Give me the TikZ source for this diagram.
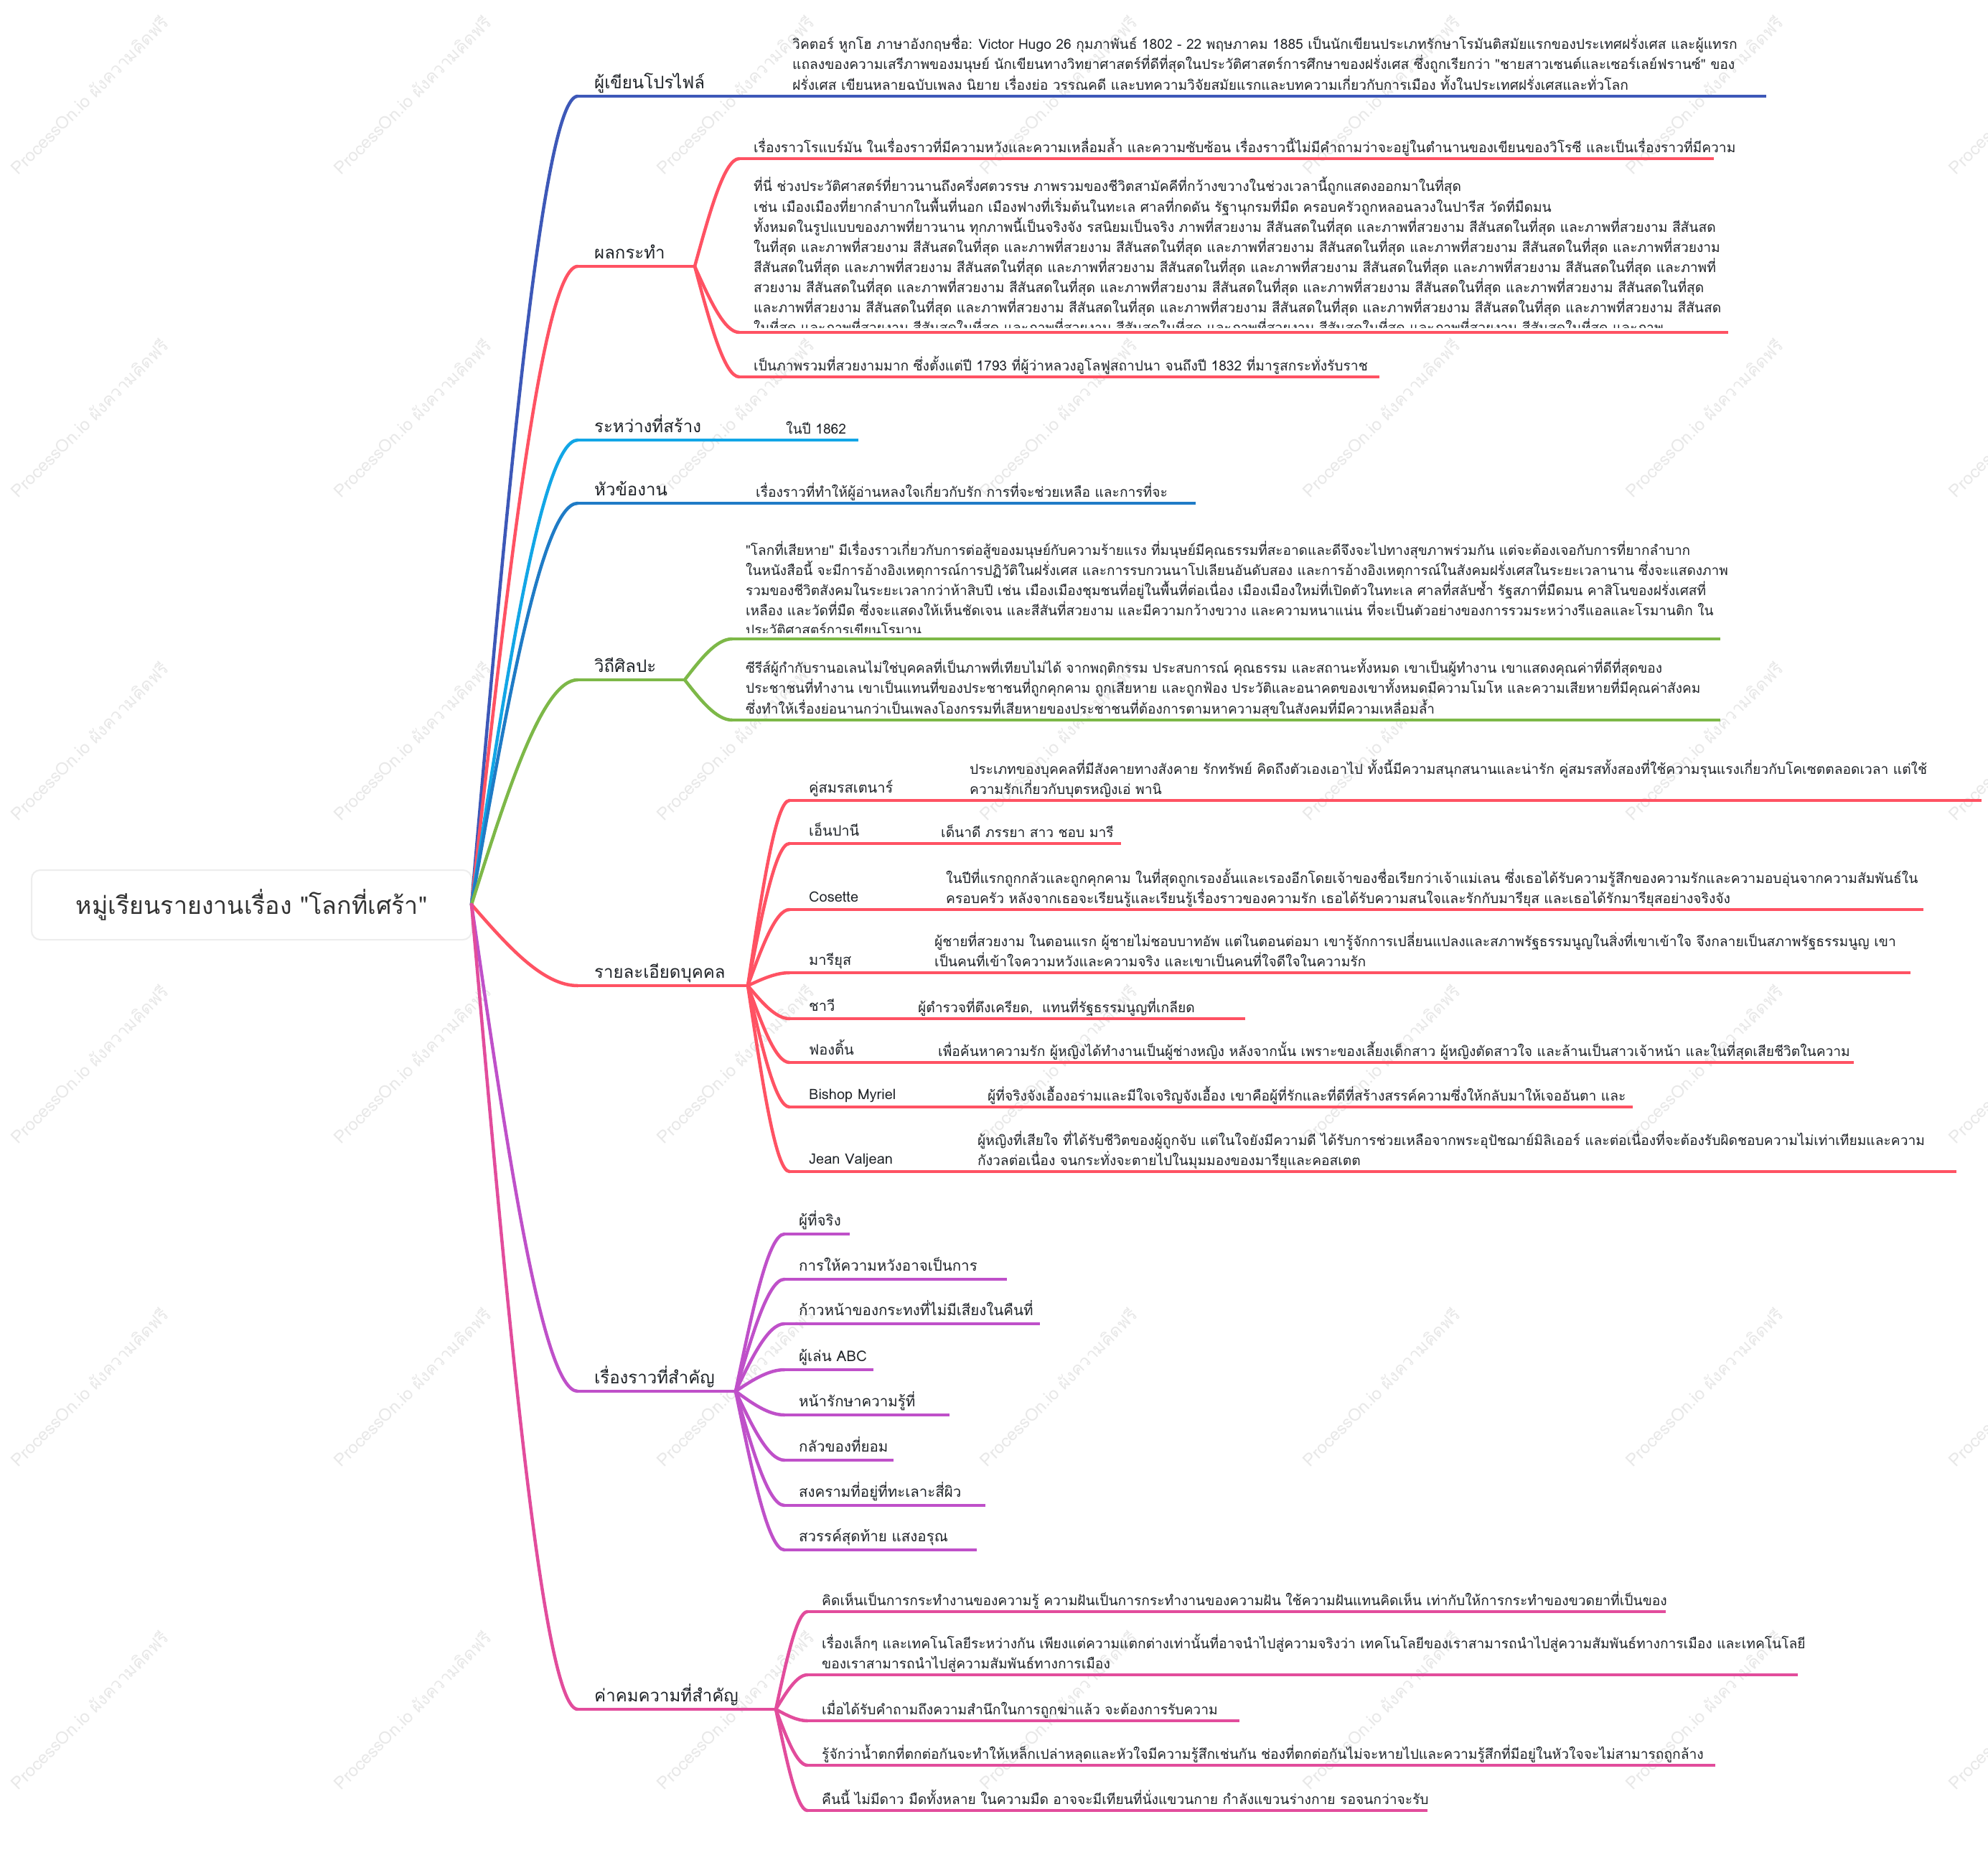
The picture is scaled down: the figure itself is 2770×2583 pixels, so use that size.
\documentclass[tikz,border=0pt]{standalone}
\usepackage{fontspec}
\setmainfont[Script=Thai,Ligatures=TeXOff]{Loma}
\usetikzlibrary{calc}
\definecolor{cBlueA}{HTML}{3D58B8}
\definecolor{cRed}{HTML}{FF5263}
\definecolor{cSky}{HTML}{12A6E6}
\definecolor{cBlueB}{HTML}{1F7BC6}
\definecolor{cGreen}{HTML}{7DB848}
\definecolor{cPurple}{HTML}{BF50C9}
\definecolor{cPink}{HTML}{E24C9C}
\definecolor{cText}{HTML}{1F2328}
\definecolor{cWater}{HTML}{E8E8E8}
\newcommand\lines[1]{\begin{tabular}[b]{@{}l@{}}#1\end{tabular}}
\newcommand\conn[3]{\draw[#1] let \p1=(#2), \p2=(#3) in (\p1) .. controls ({(2*\x1+\x2)/3},{(\y1+\y2)/2}) and ({(\x1+2*\x2)/3},{\y2}) .. (\p2);}
\tikzset{
  lvlone/.style={anchor=base west, inner sep=0, font=\fontsize{24}{30}\selectfont, text=cText},
  para/.style={anchor=base west, inner sep=0, font=\fontsize{19.2}{27.3}\selectfont, text=cText},
  paragreen/.style={anchor=base west, inner sep=0, font=\fontsize{19}{26.7}\selectfont, text=cText},
  cname/.style={anchor=base west, inner sep=0, font=\fontsize{20}{27}\selectfont, text=cText},
  story/.style={anchor=base west, inner sep=0, font=\fontsize{20.5}{27}\selectfont, text=cText},
  uline/.style={line width=4.5pt, line cap=butt},
  link/.style={line width=4.5pt, line cap=round},
  wmark/.style={rotate=45, text=cWater, font=\fontsize{24}{28}\selectfont, inner sep=0},
  rootbox/.style={draw=black!7, line width=2pt, fill=white, rounded corners=12pt, minimum width=613pt, minimum height=97pt, inner sep=0, text=black!80, font=\fontsize{34}{40}\selectfont},
}
\begin{document}
\begin{tikzpicture}[x=1pt,y=-1pt]
\useasboundingbox (0,0) rectangle (2770,2583);
\fill[white] (0,0) rectangle (2770,2583);
% watermarks
\foreach \i in {0,...,6}{\foreach \j in {0,...,5}{
  \node[wmark] (wm-\i-\j) at ({124+450*\i},{132+450*\j}) {ProcessOn.io ผังความคิดฟรี};
}}
% root
\node[rootbox] (root) at (350.5,1260.5) {หมู่เรียนรายงานเรื่อง "โลกที่เศร้า"};
\coordinate (hub) at (657,1260);

% ===== T1 ผู้เขียนโปรไฟล์
\coordinate (t1s) at (805,134); \coordinate (t1e) at (995,134);
\node[lvlone] (t1) at (828,123) {ผู้เขียนโปรไฟล์};
\coordinate (p1s) at (1082,134); \coordinate (p1e) at (2461,134);
\node[para] (p1) at (1104,125) {\lines{วิคตอร์ หูกโฮ ภาษาอังกฤษชื่อ: Victor Hugo 26 กุมภาพันธ์ 1802 - 22 พฤษภาคม 1885 เป็นนักเขียนประเภทรักษาโรมันติสมัยแรกของประเทศฝรั่งเศส และผู้แทรก\\
แถลงของความเสรีภาพของมนุษย์ นักเขียนทางวิทยาศาสตร์ที่ดีที่สุดในประวัติศาสตร์การศึกษาของฝรั่งเศส ซึ่งถูกเรียกว่า "ชายสาวเซนต์และเซอร์เลย์ฟรานซ์" ของ\\
ฝรั่งเศส เขียนหลายฉบับเพลง นิยาย เรื่องย่อ วรรณคดี และบทความวิจัยสมัยแรกและบทความเกี่ยวกับการเมือง ทั้งในประเทศฝรั่งเศสและทั่วโลก}};
\conn{cBlueA,link}{hub}{t1s}
\draw[cBlueA,uline] (t1s) -- (t1e);
\draw[cBlueA,uline] (t1e) -- (p1s);
\draw[cBlueA,uline] (p1s) -- (p1e);

% ===== T2 ผลกระทำ
\coordinate (t2s) at (805,371); \coordinate (t2e) at (968,371);
\node[lvlone] (t2) at (828,360) {ผลกระทำ};
\conn{cRed,link}{hub}{t2s}
\draw[cRed,uline] (t2s) -- (t2e);
\coordinate (p2as) at (1030,221); \coordinate (p2ae) at (2388,221);
\node[para] (p2a) at (1050,212) {เรื่องราวโรแบร์มัน ในเรื่องราวที่มีความหวังและความเหลื่อมล้ำ และความซับซ้อน เรื่องราวนี้ไม่มีคำถามว่าจะอยู่ในตำนานของเขียนของวิโรซี และเป็นเรื่องราวที่มีความ};
\coordinate (p2bs) at (1030,463); \coordinate (p2be) at (2408,463);
\begin{scope}
\clip (1040,240) rectangle (2460,456);
\node[para] (p2b) at (1050,463.3) {\lines{ที่นี่ ช่วงประวัติศาสตร์ที่ยาวนานถึงครึ่งศตวรรษ ภาพรวมของชีวิตสามัคคีที่กว้างขวางในช่วงเวลานี้ถูกแสดงออกมาในที่สุด\\
เช่น เมืองเมืองที่ยากลำบากในพื้นที่นอก เมืองฟางที่เริ่มต้นในทะเล ศาลที่กดดัน รัฐานุกรมที่มืด ครอบครัวถูกหลอนลวงในปารีส วัดที่มืดมน\\
ทั้งหมดในรูปแบบของภาพที่ยาวนาน ทุกภาพนี้เป็นจริงจัง รสนิยมเป็นจริง ภาพที่สวยงาม สีสันสดในที่สุด และภาพที่สวยงาม สีสันสดในที่สุด และภาพที่สวยงาม สีสันสด\\
ในที่สุด และภาพที่สวยงาม สีสันสดในที่สุด และภาพที่สวยงาม สีสันสดในที่สุด และภาพที่สวยงาม สีสันสดในที่สุด และภาพที่สวยงาม สีสันสดในที่สุด และภาพที่สวยงาม\\
สีสันสดในที่สุด และภาพที่สวยงาม สีสันสดในที่สุด และภาพที่สวยงาม สีสันสดในที่สุด และภาพที่สวยงาม สีสันสดในที่สุด และภาพที่สวยงาม สีสันสดในที่สุด และภาพที่\\
สวยงาม สีสันสดในที่สุด และภาพที่สวยงาม สีสันสดในที่สุด และภาพที่สวยงาม สีสันสดในที่สุด และภาพที่สวยงาม สีสันสดในที่สุด และภาพที่สวยงาม สีสันสดในที่สุด\\
และภาพที่สวยงาม สีสันสดในที่สุด และภาพที่สวยงาม สีสันสดในที่สุด และภาพที่สวยงาม สีสันสดในที่สุด และภาพที่สวยงาม สีสันสดในที่สุด และภาพที่สวยงาม สีสันสด\\
ในที่สุด และภาพที่สวยงาม สีสันสดในที่สุด และภาพที่สวยงาม สีสันสดในที่สุด และภาพที่สวยงาม สีสันสดในที่สุด และภาพที่สวยงาม สีสันสดในที่สุด และภาพ}};
\end{scope}
\coordinate (p2cs) at (1030,525); \coordinate (p2ce) at (1922,525);
\node[para] (p2c) at (1050,516) {เป็นภาพรวมที่สวยงามมาก ซึ่งตั้งแต่ปี 1793 ที่ผู้ว่าหลวงอูโลฟูสถาปนา จนถึงปี 1832 ที่มารูสกระทั่งรับราช};
\foreach \c in {p2a,p2b,p2c}{
  \conn{cRed,link}{t2e}{\c s}
  \draw[cRed,uline] (\c s) -- (\c e);
}

% ===== T3 ระหว่างที่สร้าง
\coordinate (t3s) at (805,613); \coordinate (t3e) at (987,613);
\node[lvlone] (t3) at (828,602) {ระหว่างที่สร้าง};
\coordinate (p3s) at (1073,613); \coordinate (p3e) at (1196,613);
\node[para] (p3) at (1095,604) {ในปี 1862};
\conn{cSky,link}{hub}{t3s}
\draw[cSky,uline] (t3s) -- (t3e);
\draw[cSky,uline] (t3e) -- (p3s);
\draw[cSky,uline] (p3s) -- (p3e);

% ===== T4 หัวข้องาน
\coordinate (t4s) at (805,701); \coordinate (t4e) at (942,701);
\node[lvlone] (t4) at (828,690) {หัวข้องาน};
\coordinate (p4s) at (1031,701); \coordinate (p4e) at (1666,701);
\node[para] (p4) at (1053,692) {เรื่องราวที่ทำให้ผู้อ่านหลงใจเกี่ยวกับรัก การที่จะช่วยเหลือ และการที่จะ};
\conn{cBlueB,link}{hub}{t4s}
\draw[cBlueB,uline] (t4s) -- (t4e);
\draw[cBlueB,uline] (t4e) -- (p4s);
\draw[cBlueB,uline] (p4s) -- (p4e);

% ===== T5 วิถีศิลปะ
\coordinate (t5s) at (805,947); \coordinate (t5e) at (954,947);
\node[lvlone] (t5) at (828,936) {วิถีศิลปะ};
\conn{cGreen,link}{hub}{t5s}
\draw[cGreen,uline] (t5s) -- (t5e);
\coordinate (p5as) at (1020,890); \coordinate (p5ae) at (2397,890);
\begin{scope}
\clip (1030,700) rectangle (2460,881);
\node[paragreen] (p5a) at (1039,884) {\lines{"โลกที่เสียหาย" มีเรื่องราวเกี่ยวกับการต่อสู้ของมนุษย์กับความร้ายแรง ที่มนุษย์มีคุณธรรมที่สะอาดและดีจึงจะไปทางสุขภาพร่วมกัน แต่จะต้องเจอกับการที่ยากลำบาก\\
ในหนังสือนี้ จะมีการอ้างอิงเหตุการณ์การปฏิวัติในฝรั่งเศส และการรบกวนนาโปเลียนอันดับสอง และการอ้างอิงเหตุการณ์ในสังคมฝรั่งเศสในระยะเวลานาน ซึ่งจะแสดงภาพ\\
รวมของชีวิตสังคมในระยะเวลากว่าห้าสิบปี เช่น เมืองเมืองชุมชนที่อยู่ในพื้นที่ต่อเนื่อง เมืองเมืองใหม่ที่เปิดตัวในทะเล ศาลที่สลับซ้ำ รัฐสภาที่มืดมน คาสิโนของฝรั่งเศสที่\\
เหลือง และวัดที่มืด ซึ่งจะแสดงให้เห็นชัดเจน และสีสันที่สวยงาม และมีความกว้างขวาง และความหนาแน่น ที่จะเป็นตัวอย่างของการรวมระหว่างรีแอลและโรมานติก ใน\\
ประวัติศาสตร์การเขียนโรมาน}};
\end{scope}
\coordinate (p5bs) at (1020,1003); \coordinate (p5be) at (2397,1003);
\node[paragreen] (p5b) at (1039,994) {\lines{ซีรีส์ผู้กำกับรานอเลนไม่ใช่บุคคลที่เป็นภาพที่เทียบไม่ได้ จากพฤติกรรม ประสบการณ์ คุณธรรม และสถานะทั้งหมด เขาเป็นผู้ทำงาน เขาแสดงคุณค่าที่ดีที่สุดของ\\
ประชาชนที่ทำงาน เขาเป็นแทนที่ของประชาชนที่ถูกคุกคาม ถูกเสียหาย และถูกฟ้อง ประวัติและอนาคตของเขาทั้งหมดมีความโมโห และความเสียหายที่มีคุณค่าสังคม\\
ซึ่งทำให้เรื่องย่อนานกว่าเป็นเพลงโองกรรมที่เสียหายของประชาชนที่ต้องการตามหาความสุขในสังคมที่มีความเหลื่อมล้ำ}};
\foreach \c in {p5a,p5b}{
  \conn{cGreen,link}{t5e}{\c s}
  \draw[cGreen,uline] (\c s) -- (\c e);
}

% ===== T6 รายละเอียดบุคคล
\coordinate (t6s) at (805,1373); \coordinate (t6e) at (1042,1373);
\node[lvlone] (t6) at (828,1362) {รายละเอียดบุคคล};
\conn{cRed,link}{hub}{t6s}
\draw[cRed,uline] (t6s) -- (t6e);
% names and descriptions
\coordinate (n1s) at (1100,1115); \coordinate (n1e) at (1300,1115); \coordinate (d1s) at (1329,1115); \coordinate (d1e) at (2761,1115);
\node[cname] (n1) at (1127,1104) {คู่สมรสเตนาร์};
\node[para] (d1) at (1351,1106) {\lines{ประเภทของบุคคลที่มีสังคายทางสังคาย รักทรัพย์ คิดถึงตัวเองเอาไป ทั้งนี้มีความสนุกสนานและน่ารัก คู่สมรสทั้งสองที่ใช้ความรุนแรงเกี่ยวกับโคเซตตลอดเวลา แต่ใช้\\
ความรักเกี่ยวกับบุตรหญิงเอ่ พานิ}};
\coordinate (n2s) at (1100,1175); \coordinate (n2e) at (1260,1175); \coordinate (d2s) at (1289,1175); \coordinate (d2e) at (1562,1175);
\node[cname] (n2) at (1127,1164) {เอ็นปานี};
\node[para] (d2) at (1311,1166) {เด็นาดี ภรรยา สาว ชอบ มารี};
\coordinate (n3s) at (1100,1267); \coordinate (n3e) at (1270,1267); \coordinate (d3s) at (1296,1267); \coordinate (d3e) at (2680,1267);
\node[cname] (n3) at (1127,1256) {Cosette};
\node[para] (d3) at (1318,1258) {\lines{ในปีที่แรกถูกกลัวและถูกคุกคาม ในที่สุดถูกเรองอั้นและเรองอีกโดยเจ้าของชื่อเรียกว่าเจ้าแม่เลน ซึ่งเธอได้รับความรู้สึกของความรักและความอบอุ่นจากความสัมพันธ์ใน\\
ครอบครัว หลังจากเธอจะเรียนรู้และเรียนรู้เรื่องราวของความรัก เธอได้รับความสนใจและรักกับมารียุส และเธอได้รักมารียุสอย่างจริงจัง}};
\coordinate (n4s) at (1100,1355); \coordinate (n4e) at (1250,1355); \coordinate (d4s) at (1280,1355); \coordinate (d4e) at (2662,1355);
\node[cname] (n4) at (1127,1344) {มารียุส};
\node[para] (d4) at (1302,1346) {\lines{ผู้ชายที่สวยงาม ในตอนแรก ผู้ชายไม่ชอบบาทอัพ แต่ในตอนต่อมา เขารู้จักการเปลี่ยนแปลงและสภาพรัฐธรรมนูญในสิ่งที่เขาเข้าใจ จึงกลายเป็นสภาพรัฐธรรมนูญ เขา\\
เป็นคนที่เข้าใจความหวังและความจริง และเขาเป็นคนที่ใจดีใจในความรัก}};
\coordinate (n5s) at (1100,1419); \coordinate (n5e) at (1230,1419); \coordinate (d5s) at (1257,1419); \coordinate (d5e) at (1735,1419);
\node[cname] (n5) at (1127,1408) {ชาวี};
\node[para] (d5) at (1279,1410) {ผู้ตำรวจที่ตึงเครียด,\ \ แทนที่รัฐธรรมนูญที่เกลียด};
\coordinate (n6s) at (1100,1480); \coordinate (n6e) at (1255,1480); \coordinate (d6s) at (1285,1480); \coordinate (d6e) at (2583,1480);
\node[cname] (n6) at (1127,1469) {ฟองติ้น};
\node[para] (d6) at (1307,1471) {เพื่อค้นหาความรัก ผู้หญิงได้ทำงานเป็นผู้ช่างหญิง หลังจากนั้น เพราะของเลี้ยงเด็กสาว ผู้หญิงตัดสาวใจ และล้านเป็นสาวเจ้าหน้า และในที่สุดเสียชีวิตในความ};
\coordinate (n7s) at (1100,1542); \coordinate (n7e) at (1320,1542); \coordinate (d7s) at (1354,1542); \coordinate (d7e) at (2275,1542);
\node[cname] (n7) at (1127,1531) {Bishop Myriel};
\node[para] (d7) at (1376,1533) {ผู้ที่จริงจังเอื้องอร่ามและมีใจเจริญจังเอื้อง เขาคือผู้ที่รักและที่ดีที่สร้างสรรค์ความซึ่งให้กลับมาให้เจออันตา และ};
\coordinate (n8s) at (1100,1632); \coordinate (n8e) at (1310,1632); \coordinate (d8s) at (1340,1632); \coordinate (d8e) at (2726,1632);
\node[cname] (n8) at (1127,1621) {Jean Valjean};
\node[para] (d8) at (1362,1623) {\lines{ผู้หญิงที่เสียใจ ที่ได้รับชีวิตของผู้ถูกจับ แต่ในใจยังมีความดี ได้รับการช่วยเหลือจากพระอุปัชฌาย์มิลิเออร์ และต่อเนื่องที่จะต้องรับผิดชอบความไม่เท่าเทียมและความ\\
กังวลต่อเนื่อง จนกระทั่งจะตายไปในมุมมองของมารียุและคอสเตต}};
\foreach \k in {1,...,8}{
  \conn{cRed,link}{t6e}{n\k s}
  \draw[cRed,uline] (n\k s) -- (n\k e);
  \draw[cRed,uline] (n\k e) -- (d\k s);
  \draw[cRed,uline] (d\k s) -- (d\k e);
}

% ===== T7 เรื่องราวที่สำคัญ
\coordinate (t7s) at (805,1938); \coordinate (t7e) at (1025,1938);
\node[lvlone] (t7) at (828,1927) {เรื่องราวที่สำคัญ};
\conn{cPurple,link}{hub}{t7s}
\draw[cPurple,uline] (t7s) -- (t7e);
\foreach \k/\yy/\xe/\txt in {1/1719/1184/ผู้ที่จริง, 2/1782/1403/การให้ความหวังอาจเป็นการ, 3/1844/1449/ก้าวหน้าของกระทงที่ไม่มีเสียงในคืนที่, 4/1908/1217/ผู้เล่น ABC, 5/1971/1323/หน้ารักษาความรู้ที่, 6/2034/1245/กลัวของที่ยอม, 7/2097/1373/สงครามที่อยู่ที่ทะเลาะสี่ผิว, 8/2159/1361/สวรรค์สุดท้าย แสงอรุณ}{
  \coordinate (s\k s) at (1093,\yy); \coordinate (s\k e) at (\xe,\yy);
  \node[story] (s\k) at (1113,\yy-12) {\txt};
  \conn{cPurple,link}{t7e}{s\k s}
  \draw[cPurple,uline] (s\k s) -- (s\k e);
}

% ===== T8 ค่าคมความที่สำคัญ
\coordinate (t8s) at (805,2381); \coordinate (t8e) at (1081,2381);
\node[lvlone] (t8) at (828,2370) {ค่าคมความที่สำคัญ};
\conn{cPink,link}{hub}{t8s}
\draw[cPink,uline] (t8s) -- (t8e);
\coordinate (q1s) at (1125,2245); \coordinate (q1e) at (2321,2245);
\node[para] (q1) at (1145,2236) {คิดเห็นเป็นการกระทำงานของความรู้ ความฝันเป็นการกระทำงานของความฝัน ใช้ความฝันแทนคิดเห็น เท่ากับให้การกระทำของขวดยาที่เป็นของ};
\coordinate (q2s) at (1125,2333); \coordinate (q2e) at (2505,2333);
\node[para] (q2) at (1145,2324) {\lines{เรื่องเล็กๆ และเทคโนโลยีระหว่างกัน เพียงแต่ความแตกต่างเท่านั้นที่อาจนำไปสู่ความจริงว่า เทคโนโลยีของเราสามารถนำไปสู่ความสัมพันธ์ทางการเมือง และเทคโนโลยี\\
ของเราสามารถนำไปสู่ความสัมพันธ์ทางการเมือง}};
\coordinate (q3s) at (1125,2397); \coordinate (q3e) at (1727,2397);
\node[para] (q3) at (1145,2388) {เมื่อได้รับคำถามถึงความสำนึกในการถูกฆ่าแล้ว จะต้องการรับความ};
\coordinate (q4s) at (1125,2459); \coordinate (q4e) at (2390,2459);
\node[para] (q4) at (1145,2450) {รู้จักว่าน้ำตกที่ตกต่อกันจะทำให้เหล็กเปล่าหลุดและหัวใจมีความรู้สึกเช่นกัน ช่องที่ตกต่อกันไม่จะหายไปและความรู้สึกที่มีอยู่ในหัวใจจะไม่สามารถถูกล้าง};
\coordinate (q5s) at (1125,2522); \coordinate (q5e) at (1989,2522);
\node[para] (q5) at (1145,2513) {คืนนี้ ไม่มีดาว มืดทั้งหลาย ในความมืด อาจจะมีเทียนที่นั่งแขวนกาย กำลังแขวนร่างกาย รอจนกว่าจะรับ};
\foreach \k in {1,...,5}{
  \conn{cPink,link}{t8e}{q\k s}
  \draw[cPink,uline] (q\k s) -- (q\k e);
}
\end{tikzpicture}
\end{document}
